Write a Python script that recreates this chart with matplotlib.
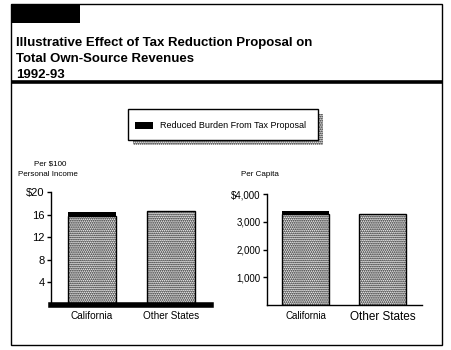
import matplotlib
matplotlib.use("Agg")
import matplotlib.pyplot as plt
from matplotlib.patches import Rectangle

W, H = 451, 350

# ---- data -------------------------------------------------------------
categories = ["California", "Other States"]
income_base = [15.8, 16.55]       # per $100 personal income, after reduction
income_burden = [0.6, 0.0]        # reduced burden from tax proposal
capita_base = [3290, 3290]        # per capita dollars, after reduction
capita_burden = [100, 0]
income_ticks = [4, 8, 12, 16, 20]
income_ticklabels = ["4", "8", "12", "16", "$20"]
capita_ticks = [1000, 2000, 3000, 4000]
capita_ticklabels = ["1,000", "2,000", "3,000", "$4,000"]

title_lines = ["Illustrative Effect of Tax Reduction Proposal on",
               "Total Own-Source Revenues",
               "1992-93"]
legend_label = "Reduced Burden From Tax Proposal"

REG = ["Liberation Sans", "DejaVu Sans"]
STIPPLE = "........"

plt.rcParams["hatch.linewidth"] = 0.9

fig = plt.figure(figsize=(W / 100, H / 100), dpi=100)
fig.patch.set_facecolor("white")

# overlay in pixel coordinates for the frame decorations
frame = fig.add_axes([0, 0, 1, 1])
frame.set_xlim(0, W)
frame.set_ylim(H, 0)
frame.axis("off")
frame.add_patch(Rectangle((11, 4), 431, 341, fill=False, lw=1.0, ec="black"))
frame.add_patch(Rectangle((11, 4), 69, 19, color="black", lw=0))
frame.plot([11, 442], [82, 82], color="black", lw=2.6, solid_capstyle="butt")

for i, line in enumerate(title_lines):
    frame.text(16, 46 + i * 16, line, fontsize=9.5, fontweight="bold",
               family=REG, va="baseline", ha="left")

# legend box with stippled drop shadow
frame.add_patch(Rectangle((133, 114), 190, 31, facecolor="white",
                          edgecolor="black", hatch=STIPPLE, lw=0, zorder=1))
frame.add_patch(Rectangle((128, 109), 190, 31, facecolor="white", ec="black",
                          lw=1.0, zorder=2))
frame.add_patch(Rectangle((135, 122), 18, 7, color="black", lw=0, zorder=3))
frame.text(160, 126, legend_label, fontsize=6.5, family=REG,
           va="center", ha="left", zorder=3)


def px_axes(left, right, top, bottom):
    return fig.add_axes([left / W, 1 - bottom / H, (right - left) / W,
                         (bottom - top) / H])


def style(ax):
    ax.set_facecolor("none")
    for s in ("top", "right"):
        ax.spines[s].set_visible(False)
    ax.spines["left"].set_linewidth(1.0)
    ax.tick_params(axis="y", direction="out", length=3, width=1.0, pad=1.5)
    ax.tick_params(axis="x", length=0, pad=4)


# ---- left panel: per $100 personal income -----------------------------
ax1 = px_axes(51, 211, 192, 305)
x = [0, 1]
ax1.bar(x, income_base, width=0.61, facecolor="white", edgecolor="black",
        hatch=STIPPLE, lw=1.0, zorder=2)
ax1.bar(x, income_burden, bottom=income_base, width=0.61, color="black",
        lw=0, zorder=3)
ax1.set_xlim(-0.52, 1.51)
ax1.set_ylim(0, 20)
style(ax1)
ax1.spines["bottom"].set_linewidth(4.0)
ax1.set_yticks(income_ticks)
ax1.set_yticklabels(income_ticklabels, family=REG, fontsize=8)
ax1.set_xticks(x)
ax1.set_xticklabels(categories, family=REG, fontsize=7.2)
fig.text(50 / W, 1 - 164 / H, "Per $100", fontsize=5.8, family=REG,
         ha="center", va="center")
fig.text(48 / W, 1 - 174 / H, "Personal Income", fontsize=5.8, family=REG,
         ha="center", va="center")

# ---- right panel: per capita ------------------------------------------
ax2 = px_axes(267, 422, 194, 305)
ax2.bar(x, capita_base, width=0.61, facecolor="white", edgecolor="black",
        hatch=STIPPLE, lw=1.0, zorder=2)
ax2.bar(x, capita_burden, bottom=capita_base, width=0.61, color="black",
        lw=0, zorder=3)
ax2.set_xlim(-0.5, 1.513)
ax2.set_ylim(0, 4000)
style(ax2)
ax2.spines["bottom"].set_linewidth(1.0)
ax2.set_yticks(capita_ticks)
ax2.set_yticklabels(capita_ticklabels, family=REG, fontsize=7)
ax2.set_xticks(x)
ax2.set_xticklabels(categories, family=REG, fontsize=8)
ax2.get_xticklabels()[0].set_fontsize(7)
ax2.get_xticklabels()[1].set_fontsize(8.5)
fig.text(241 / W, 1 - 175 / H, "Per Capita", fontsize=5.8, family=REG,
         ha="left", va="center")

fig.savefig("out.png", dpi=100, facecolor="white")
